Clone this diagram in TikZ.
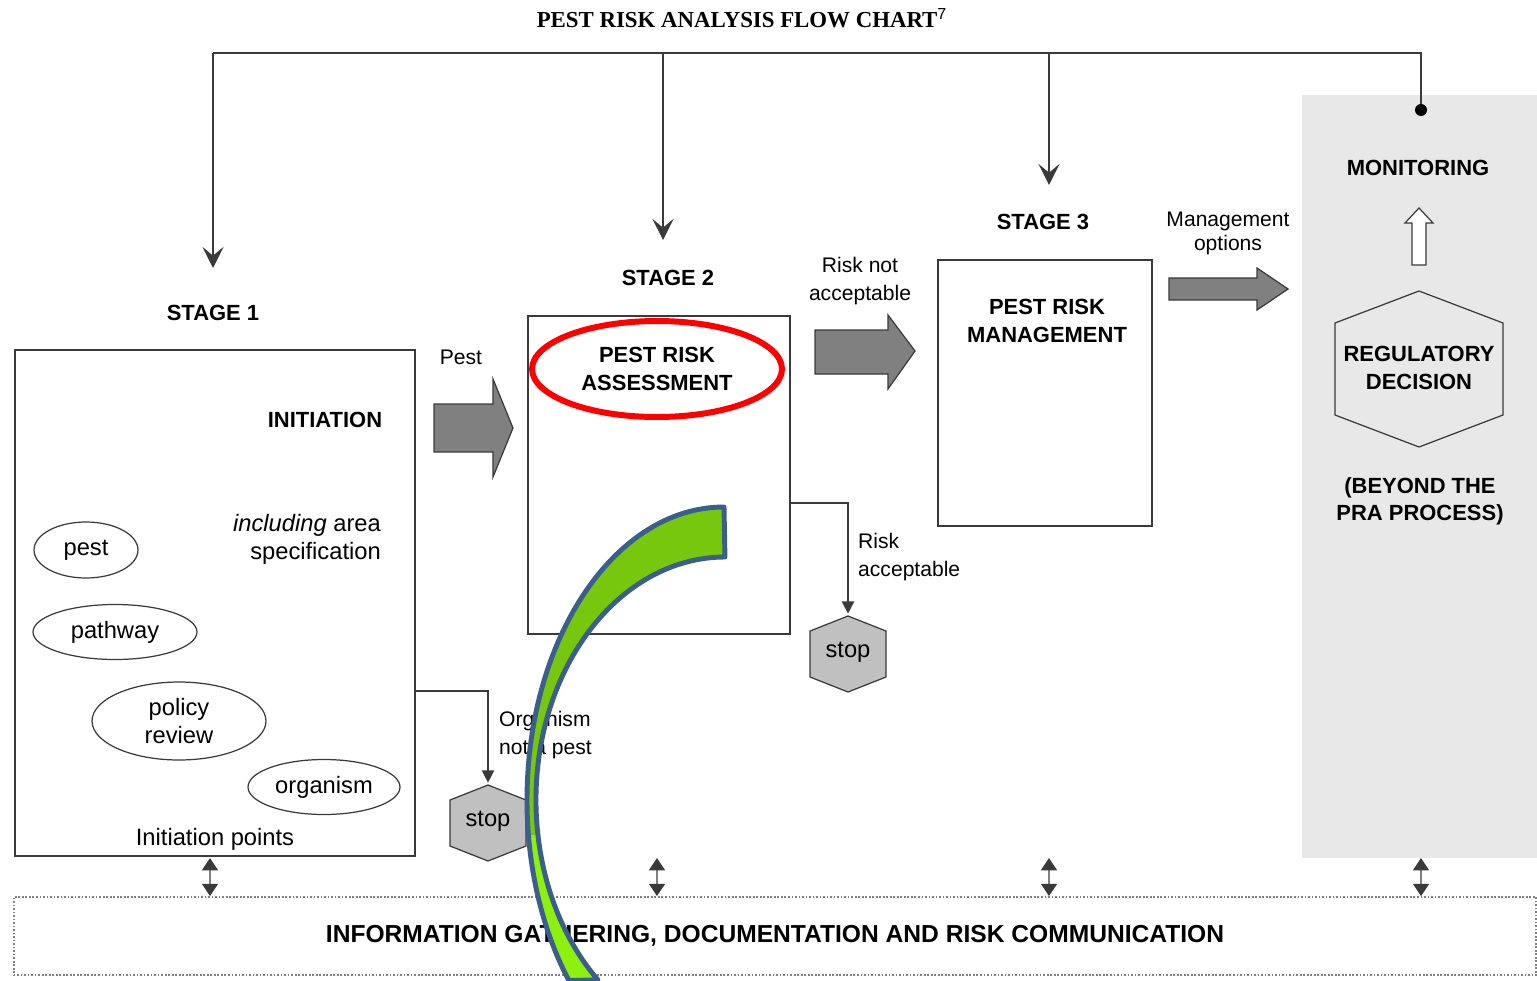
\documentclass[tikz,border=0pt]{standalone}
\usepackage{fontspec}
\setmainfont{Liberation Sans}
\newfontfamily\titlefont{Liberation Serif}
\usetikzlibrary{arrows.meta,shapes.geometric,calc}

\definecolor{panelgray}{HTML}{E8E8E8}
\definecolor{stopgray}{HTML}{C0C0C0}
\definecolor{arrowgray}{HTML}{808080}
\definecolor{linegray}{HTML}{3A3A3A}
\definecolor{bandblue}{HTML}{3B5E8C}
\definecolor{bandgreen}{HTML}{77C70F}
\definecolor{bandlime}{HTML}{8EF00F}

\tikzset{
  box/.style={draw=linegray,line width=0.9pt,rectangle,inner sep=0pt},
  panel/.style={fill=panelgray,rectangle,inner sep=0pt},
  head/.style={font=\bfseries\fontsize{12.5}{15.5}\selectfont,align=center},
  lbl/.style={font=\fontsize{12}{16}\selectfont,align=center},
  initlbl/.style={font=\fontsize{13.5}{16}\selectfont,align=center},
  point/.style={ellipse,draw=linegray,line width=0.7pt,inner sep=0pt,initlbl},
  stopnode/.style={initlbl,minimum width=1.52cm,minimum height=1.52cm,inner sep=0pt},
  hexa/.style={draw=linegray,line width=0.7pt,fill=stopgray},
  bigarrow/.style={draw=linegray,line width=0.7pt,fill=arrowgray},
  feed/.style={draw=linegray,line width=0.8pt},
  feedarrow/.style={feed,-{Stealth[length=12pt,width=12pt,inset=5pt]}},
  toarrow/.style={feed,-{Triangle[length=7pt,width=7pt]}},
  infoarrow/.style={draw=gray,line width=1.2pt,{Triangle[length=7pt,width=9pt,fill=linegray,color=linegray]}-{Triangle[length=7pt,width=9pt,fill=linegray,color=linegray]}},
  dot/.style={circle,fill=black,inner sep=0pt,minimum size=0.24cm}
}

\begin{document}
\begin{tikzpicture}[x=0.02cm,y=-0.02cm]
  \useasboundingbox (0,0) rectangle (1537,980);

  % Titel
  \node[font=\titlefont\bfseries\fontsize{13}{15}\selectfont] (Title) at (742,18) {PEST RISK ANALYSIS FLOW CHART\textsuperscript{\normalfont 7}};

  % Monitoring
  \node[panel,minimum width=4.7cm,minimum height=15.26cm] (MonPanel) at (1419.5,476.5) {};
  \node[head] (Monitoring) at (1418,168) {MONITORING};
  \draw[fill=white,draw=linegray,line width=0.7pt] (1419,265) +(-7,0) -- +(-7,-42) -- +(-14,-42) -- +(0,-57) -- +(14,-42) -- +(7,-42) -- +(7,0) -- cycle;
  \draw[draw=linegray,line width=0.7pt] (1419,369) +(0,-78) -- +(84,-46) -- +(84,46) -- +(0,78) -- +(-84,46) -- +(-84,-46) -- cycle;
  \node[head] (Decision) at (1419,368) {REGULATORY\\DECISION};
  \node[head] (BeyondPRA) at (1420,501) {(BEYOND THE\\PRA PROCESS)};

  % Feedback
  \coordinate (FeedS1) at (213,53);
  \coordinate (FeedS2) at (663,53);
  \coordinate (FeedS3) at (1049,53);
  \coordinate (FeedMon) at (1421,53);
  \coordinate (InS1) at (213,268);
  \coordinate (InS2) at (663,240);
  \coordinate (InS3) at (1049,185);
  \node[dot] (MonDot) at (1421,110) {};
  \draw[feed] (MonDot) to (FeedMon) to (FeedS1);
  \draw[feedarrow] (FeedS1) to (InS1);
  \draw[feedarrow] (FeedS2) to (InS2);
  \draw[feedarrow] (FeedS3) to (InS3);

  % Stage 1
  \node[head] (StageOne) at (213,313) {STAGE 1};
  \node[box,minimum width=8cm,minimum height=10.12cm] (InitBox) at (215,603) {};
  \node[head] (Initiation) at (325,420) {INITIATION};
  \node[initlbl,align=right,anchor=east] (Area) at (387,539) {\textit{including} area\\specification};
  \node[point,minimum width=2.08cm,minimum height=1.12cm] (PestPt) at (86,550) {pest};
  \node[point,minimum width=3.28cm,minimum height=1.1cm] (PathwayPt) at (115,632) {pathway};
  \node[point,minimum width=3.48cm,minimum height=1.56cm] (PolicyPt) at (179,721) {policy\\review};
  \node[point,minimum width=3.04cm,minimum height=1.1cm] (OrganismPt) at (324,787) {organism};
  \node[initlbl] (InitPoints) at (215,839) {Initiation points};

  \draw[hexa] (488,823) +(0,-38) -- +(38,-23) -- +(38,23) -- +(0,38) -- +(-38,23) -- +(-38,-23) -- cycle;
  \node[stopnode] (StopA) at (488,821) {stop};
  \draw[toarrow] ($(InitBox.east)+(0,88)$) -| (StopA.north);
  \node[lbl,align=left,anchor=west] (NotPest) at (493,735) {Organism\\not a pest};

  \node[lbl] (PestLbl) at (461,357) {Pest};
  \draw[bigarrow] (434,428) +(0,-24) -- +(59,-24) -- +(59,-49) -- +(79,0) -- +(59,49) -- +(59,24) -- +(0,24) -- cycle;

  % Stage 2
  \node[head] (StageTwo) at (668,278) {STAGE 2};
  \node[box,minimum width=5.24cm,minimum height=6.36cm] (AssessBox) at (659,475) {};
  \node[head,ellipse,draw=red,line width=3.4pt,inner sep=0pt,minimum width=5cm,minimum height=1.92cm] (Assessment) at (657,369) {PEST RISK\\ASSESSMENT};

  \draw[hexa] (848,654) +(0,-38) -- +(38,-23) -- +(38,23) -- +(0,38) -- +(-38,23) -- +(-38,-23) -- cycle;
  \node[stopnode] (StopB) at (848,652) {stop};
  \draw[toarrow] ($(AssessBox.east)+(0,28)$) -| (StopB.north);
  \node[lbl,align=left,anchor=west] (RiskOk) at (852,557) {Risk\\acceptable};

  \node[lbl] (RiskNot) at (860,281) {Risk not\\acceptable};
  \draw[bigarrow] (815,352) +(0,-22) -- +(73,-22) -- +(73,-37) -- +(100,-1) -- +(73,37) -- +(73,22) -- +(0,22) -- cycle;

  % Stage 3
  \node[head] (StageThree) at (1043,222) {STAGE 3};
  \node[box,minimum width=4.28cm,minimum height=5.32cm] (MgmtBox) at (1045,393) {};
  \node[head] (Management) at (1047,321) {PEST RISK\\MANAGEMENT};

  \node[lbl,font=\fontsize{12}{13.6}\selectfont] (Options) at (1228,233) {Management\\options};
  \draw[bigarrow] (1169,289) +(0,-11) -- +(88,-11) -- +(88,-21) -- +(119,0) -- +(88,21) -- +(88,11) -- +(0,11) -- cycle;

  % Information
  \node[draw=gray,dash pattern=on 1pt off 1pt,line width=1pt,minimum width=30.46cm,minimum height=1.56cm,inner sep=0pt,head,font=\bfseries\fontsize{14}{16}\selectfont] (Info) at (775,936) {INFORMATION GATHERING, DOCUMENTATION AND RISK COMMUNICATION};
  \foreach \x/\n in {210/A,657/B,1049/C,1421/D}{
    \coordinate (Up\n) at (\x,858);
    \draw[infoarrow] (Up\n) to (Up\n |- Info.north);
  }

  % Green band
  \fill[bandgreen] (724,507) arc[start angle=270,end angle=142,x radius=197,y radius=293] -- (598,980) arc[start angle=132.2,end angle=270,x radius=189,y radius=243] -- cycle;
  \begin{scope}
    \clip (0,835) rectangle (1537,980);
    \fill[bandlime] (724,507) arc[start angle=270,end angle=142,x radius=197,y radius=293] -- (598,980) arc[start angle=132.2,end angle=270,x radius=189,y radius=243] -- cycle;
  \end{scope}
  \draw[bandblue,line width=2.8pt,line join=round] (724,507) arc[start angle=270,end angle=142,x radius=197,y radius=293] -- (598,980) arc[start angle=132.2,end angle=270,x radius=189,y radius=243] -- cycle;

\end{tikzpicture}
\end{document}
